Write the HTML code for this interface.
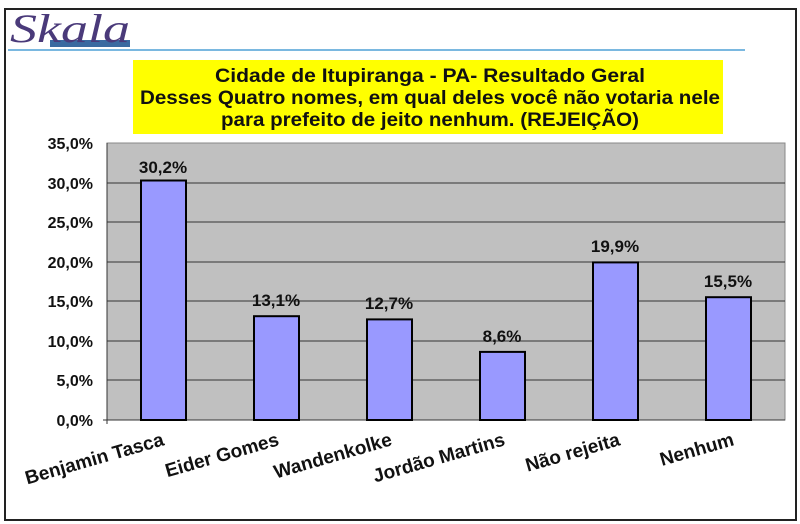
<!DOCTYPE html><html><head><meta charset="utf-8"><style>
body{margin:0;width:800px;height:524px;background:#fff;overflow:hidden;position:relative;font-family:"Liberation Sans",sans-serif}
.frame{position:absolute;left:4px;top:8px;width:789px;height:509px;border:2px solid #222}
</style></head><body>
<div class="frame"></div>
<svg width="800" height="524" style="position:absolute;left:0;top:0" font-family="Liberation Sans, sans-serif">
<rect x="50" y="40" width="80" height="7" fill="#3a6aa0"/>
<text x="10" y="42" font-family="Liberation Serif,serif" font-style="italic" font-size="40" fill="#4a3a7a" textLength="120" lengthAdjust="spacingAndGlyphs">Skala</text>
<line x1="8" y1="50" x2="745" y2="50" stroke="#7ab8e0" stroke-width="2"/>
<rect x="133" y="60" width="590" height="74" fill="#ffff00"/>
<g font-size="19" font-weight="bold" text-anchor="middle" fill="#111" lengthAdjust="spacingAndGlyphs">
<text x="430" y="82" textLength="430" lengthAdjust="spacingAndGlyphs">Cidade de Itupiranga - PA- Resultado Geral</text>
<text x="430" y="104" textLength="580" lengthAdjust="spacingAndGlyphs">Desses Quatro  nomes, em qual deles você não votaria nele</text>
<text x="430" y="126" textLength="418" lengthAdjust="spacingAndGlyphs">para prefeito de jeito nenhum. (REJEIÇÃO)</text>
</g>
<rect x="107" y="143" width="678" height="277" fill="#c0c0c0" stroke="#888"/>
<g stroke="#333" stroke-width="1">
<line x1="107" y1="183" x2="785" y2="183"/><line x1="107" y1="222" x2="785" y2="222"/>
<line x1="107" y1="262" x2="785" y2="262"/><line x1="107" y1="301" x2="785" y2="301"/>
<line x1="107" y1="341" x2="785" y2="341"/><line x1="107" y1="380" x2="785" y2="380"/>
<line x1="107" y1="143" x2="107" y2="424"/><line x1="103" y1="420" x2="785" y2="420"/>
</g>
<g font-size="16" font-weight="bold" text-anchor="end" fill="#111">
<text x="93" y="149">35,0%</text><text x="93" y="189">30,0%</text><text x="93" y="228">25,0%</text>
<text x="93" y="268">20,0%</text><text x="93" y="307">15,0%</text><text x="93" y="347">10,0%</text>
<text x="93" y="386">5,0%</text><text x="93" y="426">0,0%</text></g>
<g fill="#9999ff" stroke="#000" stroke-width="2">
<rect x="141" y="180.5" width="45" height="239.5"/>
<rect x="254" y="316.2" width="45" height="103.8"/>
<rect x="367" y="319.4" width="45" height="100.6"/>
<rect x="480" y="351.9" width="45" height="68.1"/>
<rect x="593" y="262.4" width="45" height="157.6"/>
<rect x="706" y="297.2" width="45" height="122.8"/></g>
<g font-size="17" font-weight="bold" text-anchor="middle" fill="#111">
<text x="163" y="173">30,2%</text><text x="276" y="306">13,1%</text><text x="389" y="309">12,7%</text>
<text x="502" y="342">8,6%</text><text x="615" y="252">19,9%</text><text x="728" y="287">15,5%</text></g>
<g font-size="19" font-weight="bold" text-anchor="end" fill="#111">
<text transform="translate(165,445) rotate(-16)">Benjamin Tasca</text>
<text transform="translate(280,445) rotate(-16)">Eider Gomes</text>
<text transform="translate(393,445) rotate(-16)">Wandenkolke</text>
<text transform="translate(506,445) rotate(-16)">Jordão Martins</text>
<text transform="translate(621,445) rotate(-16)">Não rejeita</text>
<text transform="translate(735,445) rotate(-16)">Nenhum</text></g>
</svg>
</body></html>
